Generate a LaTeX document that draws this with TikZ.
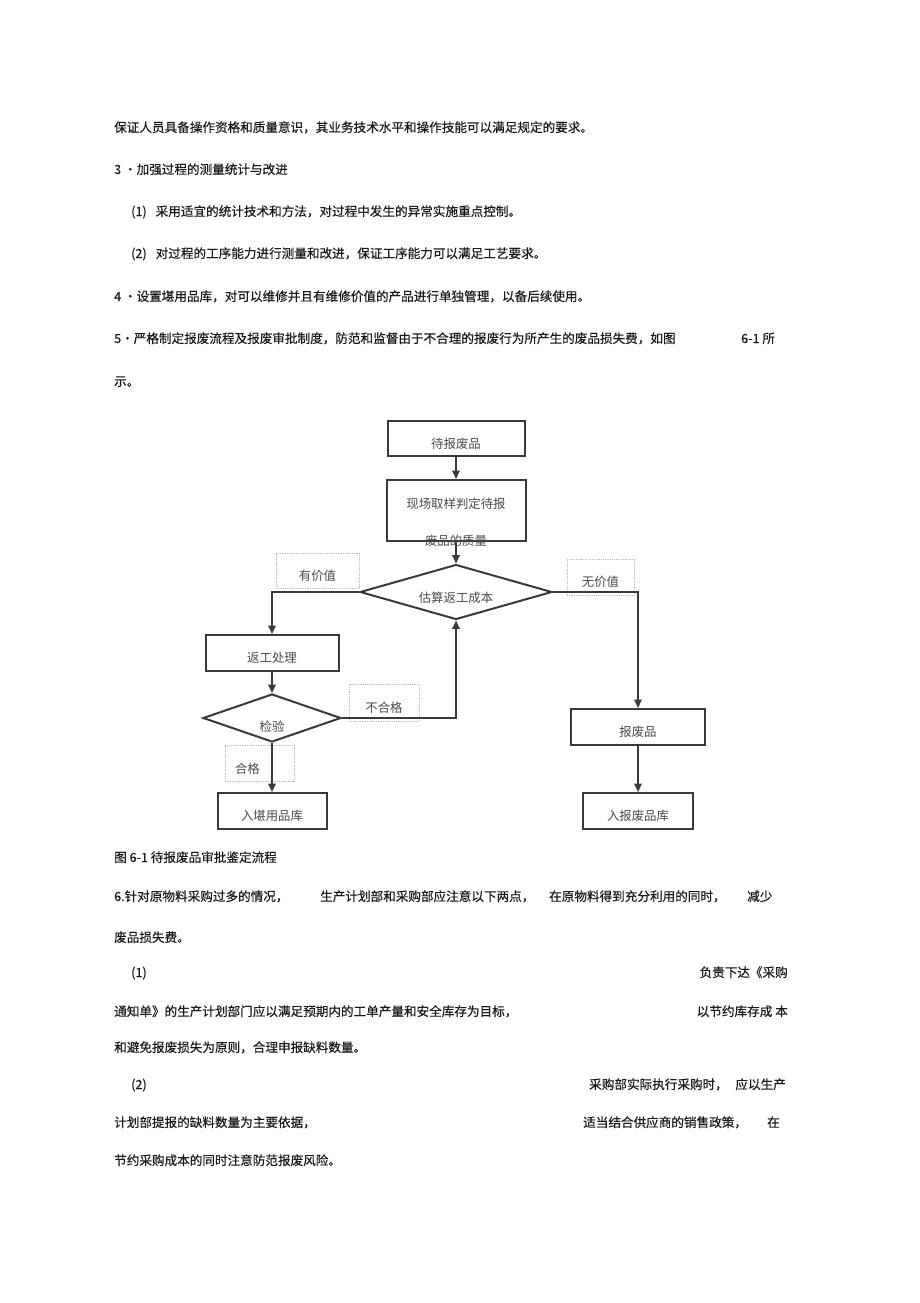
\documentclass[tikz,border=0pt]{standalone}
\usepackage{fontspec}
\setmainfont{Noto Sans CJK SC}
\newfontfamily\bodyfam{Noto Sans CJK SC}[FakeBold=0.35]
\usepackage{tikz}
\usetikzlibrary{shapes.geometric, arrows.meta}

\definecolor{lineGray}{HTML}{3A3A3A}
\definecolor{textGray}{HTML}{4A4A4A}
\definecolor{tagGray}{HTML}{BDBDBD}
\newcommand{\chartfont}{\fontsize{12.4}{15}\selectfont}
\newcommand{\bodyfont}{\bodyfam\fontsize{12.6}{15}\selectfont}

\tikzstyle{block} = [draw=lineGray, rectangle, line width=2pt, inner sep=0pt, text=textGray, font=\chartfont, text height=19.4pt, text depth=0pt]
\tikzstyle{decision} = [draw=lineGray, diamond, line width=2pt, aspect=2.5, inner sep=0pt, text=textGray, font=\chartfont, text depth=0pt]
\tikzstyle{tagbox} = [draw=tagGray, rectangle, densely dotted, line width=0.8pt, inner sep=0pt, text=textGray, font=\chartfont, text height=19pt, text depth=0pt]
\tikzstyle{flow} = [draw=lineGray, line width=2pt]
\tikzstyle{para} = [inner sep=0pt, anchor=base west, text=black!90, font=\bodyfont]

\begin{document}
\begin{tikzpicture}[x=1pt, y=-1pt, >={Triangle[length=8.5pt,width=7.5pt]}]
	\useasboundingbox (0,0) rectangle (920,1303);
	% text above the chart
	\node (LINE_1) [para] at (114,132) {保证人员具备操作资格和质量意识，其业务技术水平和操作技能可以满足规定的要求。};
	\node (LINE_2) [para] at (114,174) {3 •加强过程的测量统计与改进};
	\node (LINE_3) [para] at (131,216) {(1)\hspace{9pt}采用适宜的统计技术和方法，对过程中发生的异常实施重点控制。};
	\node (LINE_4) [para] at (131,258) {(2)\hspace{9pt}对过程的工序能力进行测量和改进，保证工序能力可以满足工艺要求。};
	\node (LINE_5) [para] at (114,301) {4 •设置堪用品库，对可以维修并且有维修价值的产品进行单独管理，以备后续使用。};
	\node (LINE_6) [para] at (114,343) {5•严格制定报废流程及报废审批制度，防范和监督由于不合理的报废行为所产生的废品损失费，如图};
	\node (LINE_6_END) [para] at (741,343) {6-1 所};
	\node (LINE_7) [para] at (114,386) {示。};

	% chart
	\node (WAIT_SCRAP) [block, minimum width=137, minimum height=35] at (456,438.5) {待报废品};
	\node (SAMPLE_CHECK) [block, minimum width=139, minimum height=61, text height=32pt] at (456,510.5)
		{\begin{tabular}{@{}c@{}}现场取样判定待报\\[22pt]废品的质量\end{tabular}};
	\node (EST_COST) [decision, minimum width=192, minimum height=55, text height=21.4pt] at (456,592) {估算返工成本};
	\node (REWORK) [block, minimum width=133, minimum height=36] at (272,653) {返工处理};
	\node (INSPECT) [decision, minimum width=138, minimum height=48, text height=27.4pt] at (272,718) {检验};
	\node (STORE_USABLE) [block, minimum width=109, minimum height=36] at (272,811) {入堪用品库};
	\node (SCRAP) [block, minimum width=134, minimum height=36] at (638,727) {报废品};
	\node (STORE_SCRAP) [block, minimum width=110, minimum height=36] at (638,811) {入报废品库};

	\node (TAG_VALUE) [tagbox, minimum width=83, minimum height=35] at (317.5,570.5) {有价值};
	\node (TAG_NOVALUE) [tagbox, minimum width=67, minimum height=36] at (600.5,577) {无价值};
	\node (TAG_FAIL) [tagbox, minimum width=70, minimum height=37, text height=20pt] at (384,702.5) {不合格};
	\node (TAG_PASS) [tagbox, minimum height=36, text width=49pt, align=left, inner xsep=10pt, text height=21pt] at (259.5,763) {合格};

	\draw[->, flow] (WAIT_SCRAP) -- (SAMPLE_CHECK);
	\draw[->, flow] (SAMPLE_CHECK) -- (EST_COST);
	\draw[->, flow] (EST_COST.west) -| (REWORK.north);
	\draw[->, flow] (EST_COST.east) -| (SCRAP.north);
	\draw[->, flow] (REWORK) -- (INSPECT);
	\draw[->, flow] (INSPECT.east) -| (EST_COST.south);
	\draw[->, flow] (INSPECT.south) -- (STORE_USABLE);
	\draw[->, flow] (SCRAP) -- (STORE_SCRAP);

	% text below the chart
	\node (CAPTION) [para] at (114,862) {图 6-1 待报废品审批鉴定流程};
	\node (LINE_8) [para] at (114,901) {6.针对原物料采购过多的情况，};
	\node (LINE_8_B) [para] at (320,901) {生产计划部和采购部应注意以下两点，};
	\node (LINE_8_C) [para] at (549,901) {在原物料得到充分利用的同时，};
	\node (LINE_8_D) [para] at (747,901) {减少};
	\node (LINE_9) [para] at (114,942) {废品损失费。};
	\node (LINE_10) [para] at (131,977) {(1)};
	\node (LINE_10_B) [para, anchor=base east] at (788,977) {负责下达《采购};
	\node (LINE_11) [para] at (114,1016) {通知单》的生产计划部门应以满足预期内的工单产量和安全库存为目标，};
	\node (LINE_11_B) [para, anchor=base east] at (788,1016) {以节约库存成 本};
	\node (LINE_12) [para] at (114,1052) {和避免报废损失为原则，合理申报缺料数量。};
	\node (LINE_13) [para] at (131,1089) {(2)};
	\node (LINE_13_B) [para] at (589,1089) {采购部实际执行采购时，};
	\node (LINE_13_C) [para, anchor=base east] at (786,1089) {应以生产};
	\node (LINE_14) [para] at (114,1127) {计划部提报的缺料数量为主要依据，};
	\node (LINE_14_B) [para] at (583,1127) {适当结合供应商的销售政策，};
	\node (LINE_14_C) [para] at (767,1127) {在};
	\node (LINE_15) [para] at (114,1165) {节约采购成本的同时注意防范报废风险。};
\end{tikzpicture}
\end{document}
